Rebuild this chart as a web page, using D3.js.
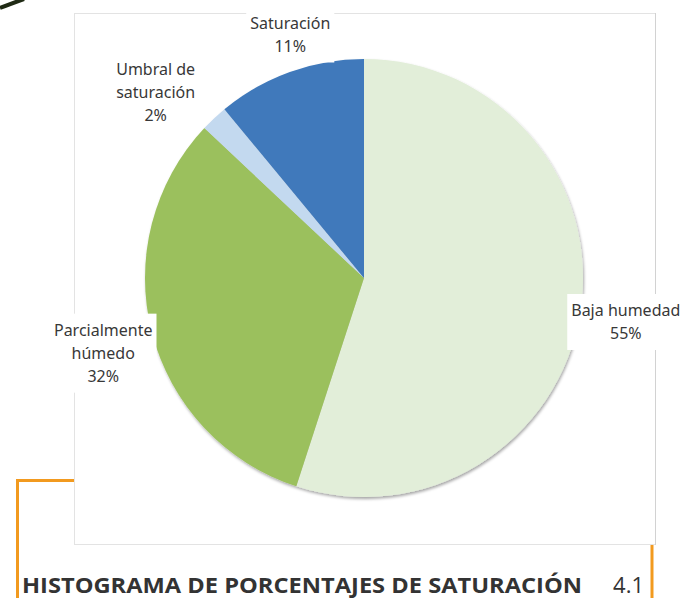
<!DOCTYPE html>
<html lang="es">
<head>
    <meta charset="UTF-8">
    <title>Histograma de porcentajes de saturación</title>
    <style>
        body { margin: 0; background: #fff; }
        svg { display: block; }
        .lbl { font-family: "Noto Sans", "Open Sans", sans-serif; font-size: 16px; fill: #383838; }
        .title { font-family: "Open Sans", "Noto Sans", sans-serif; font-weight: bold; font-size: 22px; fill: #333; }
        .num { font-family: "Open Sans", "Noto Sans", sans-serif; font-size: 22px; fill: #333; }
    </style>
</head>
<body>
<div class="chart"></div>
<script src="https://cdn.jsdelivr.net/npm/d3@7"></script>
<script>
// data
var categories = ["Baja humedad", "Parcialmente húmedo", "Umbral de saturación", "Saturación"];
var values = [55, 32, 2, 11];
var labelLines = [["Baja humedad"], ["Parcialmente", "húmedo"], ["Umbral de", "saturación"], ["Saturación"]];
var colors = ["#e2eed9", "#9bc05d", "#c3d9ef", "#3f79bb"];

(function() {
    "use strict";

    var W = 684, H = 598;
    var cx = 364, cy = 278, r = 219;
    var labelR = 262;
    // small per-label nudges, like excel's best fit placement
    var nudge = [[3, 3], [-7, 10], [-29, 5], [15, 3]];
    var lineH = 23;

    var svg = d3.select(".chart").append("svg")
        .attr("width", W)
        .attr("height", H);

    var defs = svg.append("defs");
    var f = defs.append("filter").attr("id", "shadow")
        .attr("x", "-10%").attr("y", "-10%").attr("width", "120%").attr("height", "120%");
    f.append("feDropShadow")
        .attr("dx", 1).attr("dy", 2)
        .attr("stdDeviation", 1.5)
        .attr("flood-color", "#000")
        .attr("flood-opacity", 0.35);

    // scan artefact top left
    svg.append("path")
        .attr("d", "M0,8 Q10,4 24,-1")
        .attr("fill", "none")
        .attr("stroke", "#1f2a14")
        .attr("stroke-width", 4);

    // chart frame
    svg.append("rect")
        .attr("x", 74.5).attr("y", 13.5)
        .attr("width", 581).attr("height", 531)
        .attr("fill", "none")
        .attr("stroke", "#e3e3e3")
        .attr("stroke-width", 1);
    svg.append("line")
        .attr("x1", 655.5).attr("x2", 655.5)
        .attr("y1", 13).attr("y2", 545)
        .attr("stroke", "#d2d2d2");

    // orange rules
    var orange = "#f29a1f";
    svg.append("path")
        .attr("d", "M74,480.5 H17.5 V598")
        .attr("fill", "none")
        .attr("stroke", orange)
        .attr("stroke-width", 3);
    svg.append("line")
        .attr("x1", 652).attr("x2", 652)
        .attr("y1", 545).attr("y2", 598)
        .attr("stroke", orange)
        .attr("stroke-width", 3);

    // pie
    var pie = d3.pie().sort(null).value(function(d) { return d; });
    var arcs = pie(values);
    var arc = d3.arc().innerRadius(0).outerRadius(r);

    var g = svg.append("g")
        .attr("transform", "translate(" + cx + "," + cy + ")");

    g.append("g").attr("filter", "url(#shadow)")
        .selectAll("path")
        .data(arcs)
        .enter().append("path")
        .attr("d", arc)
        .attr("fill", function(d, i) { return colors[i]; });

    // labels
    var lab = g.selectAll("g.label")
        .data(arcs)
        .enter().append("g")
        .attr("class", "label")
        .attr("transform", function(d, i) {
            var a = (d.startAngle + d.endAngle) / 2;
            var x = labelR * Math.sin(a) + nudge[i][0];
            var y = -labelR * Math.cos(a) + nudge[i][1];
            return "translate(" + x + "," + y + ")";
        });

    lab.each(function(d, i) {
        var el = d3.select(this);
        var lines = labelLines[i].concat([values[i] + "%"]);
        var box = el.append("rect").attr("fill", "#fff");
        var t = el.append("text")
            .attr("class", "lbl")
            .attr("text-anchor", "middle");
        var top = -(lines.length - 1) * lineH / 2;
        var maxW = 0;
        lines.forEach(function(s, k) {
            var ts = t.append("tspan")
                .attr("x", 0)
                .attr("y", top + k * lineH)
                .attr("dy", "0.35em")
                .text(s);
            maxW = Math.max(maxW, ts.node().getComputedTextLength());
        });
        var bh = lines.length * lineH + 10;
        box.attr("x", -maxW / 2 - 4)
            .attr("y", -bh / 2)
            .attr("width", maxW + 8)
            .attr("height", bh);
    });

    // title
    svg.append("text")
        .attr("class", "title")
        .attr("x", 22).attr("y", 593)
        .attr("textLength", 560)
        .attr("lengthAdjust", "spacingAndGlyphs")
        .text("HISTOGRAMA DE PORCENTAJES DE SATURACIÓN");
    svg.append("text")
        .attr("class", "num")
        .attr("x", 644).attr("y", 593)
        .attr("text-anchor", "end")
        .text("4.1");
})();
</script>
</body>
</html>
